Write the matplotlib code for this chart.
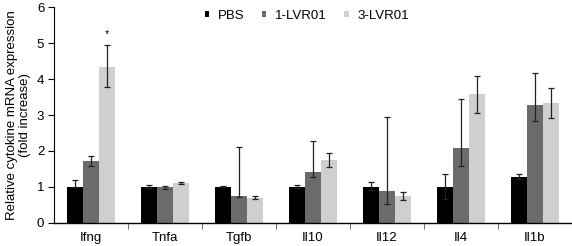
import numpy as np
import matplotlib
matplotlib.use("Agg")
import matplotlib.pyplot as plt

CYTOKINES = ["Ifng", "Tnfa", "Tgfb", "Il10", "Il12", "Il4", "Il1b"]
SERIES = ["PBS", "1-LVR01", "3-LVR01"]
COLORS = ["#000000", "#6b6b6b", "#cfcfcf"]

PBS = [1.00, 1.00, 1.00, 1.00, 1.00, 1.00, 1.28]
PBS_LO = [0.00, 0.03, 0.02, 0.04, 0.10, 0.35, 0.06]
PBS_HI = [0.18, 0.04, 0.02, 0.06, 0.13, 0.35, 0.07]

LVR1 = [1.72, 0.98, 0.74, 1.40, 0.89, 2.07, 3.28]
LVR1_LO = [0.13, 0.05, 0.02, 0.14, 0.37, 0.49, 0.44]
LVR1_HI = [0.13, 0.05, 1.38, 0.88, 2.06, 1.38, 0.90]

LVR3 = [4.35, 1.11, 0.70, 1.75, 0.74, 3.58, 3.33]
LVR3_LO = [0.58, 0.03, 0.05, 0.21, 0.11, 0.53, 0.42]
LVR3_HI = [0.60, 0.03, 0.05, 0.18, 0.11, 0.52, 0.41]


def Main():
    plt.rcParams["font.family"] = ["Liberation Sans", "DejaVu Sans"]
    fig = plt.figure(figsize=(5.72, 2.46), dpi=100)
    ax = fig.add_axes([0.0944, 0.095, 0.9056, 0.875])

    x = np.arange(len(CYTOKINES))
    width = 0.215
    values = [PBS, LVR1, LVR3]
    errs = [(PBS_LO, PBS_HI), (LVR1_LO, LVR1_HI), (LVR3_LO, LVR3_HI)]
    for i, (name, vals, err, color) in enumerate(zip(SERIES, values, errs, COLORS)):
        ax.bar(x + (i - 1) * width, vals, width, color=color, label=name, zorder=2,
               yerr=[err[0], err[1]],
               error_kw={"ecolor": "#222222", "elinewidth": 0.9, "capsize": 2.2,
                         "capthick": 0.9, "zorder": 3})

    ax.text(x[0] + width, LVR3[0] + LVR3_HI[0] + 0.17, "*", ha="center", va="bottom", fontsize=8)

    ax.set_xlim(-0.5, len(CYTOKINES) - 0.5)
    ax.set_ylim(0, 6)
    ax.set_yticks(range(7))
    ax.set_xticks(x)
    ax.set_xticklabels(CYTOKINES, fontsize=9.5)
    ax.set_xticks(np.arange(0.5, len(CYTOKINES) - 0.5, 1), minor=True)
    ax.tick_params(axis="x", which="major", length=0, pad=7)
    ax.tick_params(axis="x", which="minor", length=4, width=0.6, color="#555555")
    ax.tick_params(axis="y", labelsize=9.5, length=4, width=0.8, pad=3)
    ax.set_ylabel("Relative cytokine mRNA expression\n(fold increase)", fontsize=9.5,
                  labelpad=4, linespacing=1.15)

    for side in ["top", "right"]:
        ax.spines[side].set_visible(False)
    ax.spines["left"].set_linewidth(0.8)
    ax.spines["bottom"].set_linewidth(1.0)

    ax.legend(loc="upper center", bbox_to_anchor=(0.488, 1.045), ncol=3, frameon=False,
              fontsize=9.5, handlelength=0.35, handleheight=0.35, handletextpad=0.65,
              columnspacing=1.3)

    fig.savefig("out.png", dpi=100)
    plt.close(fig)


if __name__ == "__main__":
    Main()
